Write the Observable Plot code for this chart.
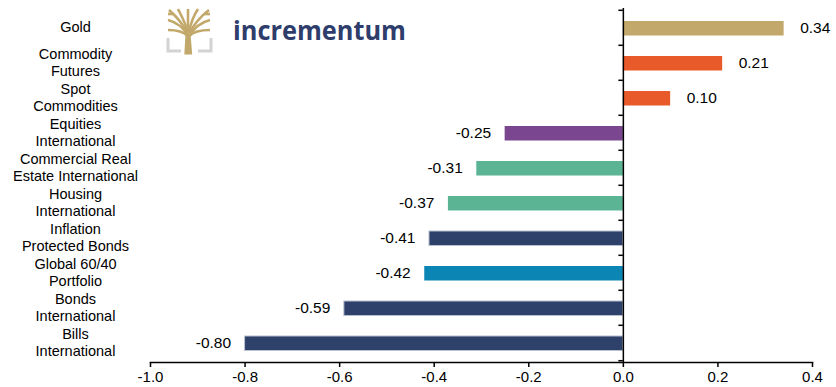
<!DOCTYPE html>
<html>
<head>
<meta charset="utf-8">
<script src="https://cdn.jsdelivr.net/npm/d3@7"></script>
<script src="https://cdn.jsdelivr.net/npm/@observablehq/plot@0.6"></script>
<style>
  html, body { margin: 0; padding: 0; background: #fff; }
  #wrap { position: relative; width: 836px; height: 387px; font-family: "Liberation Sans", Arial, sans-serif; }
  #logo { position: absolute; left: 0; top: 0; pointer-events: none; }
</style>
</head>
<body>
<div id="wrap">
  <div id="chart"></div>
  <svg id="logo" width="836" height="60">
    <g fill="none" stroke-linecap="butt">
      <path d="M168,38 V51 H181" stroke="#d3d3d3" stroke-width="3"/>
      <path d="M211,38 V51 H198" stroke="#d3d3d3" stroke-width="3"/>
      <path d="M187,52 L188,34 L189.5,52 Z" fill="#c2a86a" stroke="#c2a86a" stroke-width="5"/>
      <g stroke="#c2a86a" stroke-width="2.6">
        <path d="M188,36 C184,28 176,22 168,20"/>
        <path d="M188,36 C182,30 172,30 168,30"/>
        <path d="M188,34 C183,24 176,16 169,10"/>
        <path d="M188,32 C185,22 181,15 178,9"/>
        <path d="M188,32 L188,9"/>
        <path d="M189,32 C191,22 194,15 198,9"/>
        <path d="M189,34 C194,24 201,16 209,10"/>
        <path d="M189,36 C194,28 202,22 210,20"/>
        <path d="M189,36 C195,30 205,30 210,30"/>
        <path d="M168,14 L174,14"/>
        <path d="M204,14 L210,14"/>
      </g>
    </g>
    <text x="233" y="40" textLength="173" lengthAdjust="spacingAndGlyphs" fill="#2e3d6b" font-family="'Open Sans', 'Liberation Sans', sans-serif" font-weight="700" font-size="27">incrementum</text>
  </svg>
</div>
<script>
const categories = [
  "Gold",
  "Commodity\nFutures",
  "Spot\nCommodities",
  "Equities\nInternational",
  "Commercial Real\nEstate International",
  "Housing\nInternational",
  "Inflation\nProtected Bonds",
  "Global 60/40\nPortfolio",
  "Bonds\nInternational",
  "Bills\nInternational"
];
const values = [0.34, 0.21, 0.10, -0.25, -0.31, -0.37, -0.41, -0.42, -0.59, -0.80];
const colors = ["#c2a86a", "#e85a29", "#e85a29", "#7b4690", "#5bb595", "#5bb595", "#2e416b", "#0a85b4", "#2e416b", "#2e416b"];
const edgeColors = ["none", "none", "none", "none", "none", "none", "#b8c0d0", "none", "#b8c0d0", "#b8c0d0"];
const xTicks = [-1.0, -0.8, -0.6, -0.4, -0.2, 0.0, 0.2, 0.4];

const data = categories.map((c, i) => ({name: c, value: values[i], color: colors[i], edge: edgeColors[i]}));

const chart = Plot.plot({
  width: 836,
  height: 387,
  marginLeft: 150,
  marginRight: 24,
  marginTop: 8,
  marginBottom: 25,
  style: {fontFamily: "'Liberation Sans', Arial, sans-serif", color: "#000", background: "#fff"},
  x: {domain: [-1, 0.4]},
  y: {domain: categories, padding: 0},
  color: {type: "identity"},
  marks: [
    Plot.barX(data, {x: "value", y: "name", fill: "color", stroke: "edge", strokeWidth: 1, insetTop: 11, insetBottom: 9.5}),
    Plot.text(data.filter(d => d.value >= 0), {x: "value", y: "name", text: d => d.value.toFixed(2), textAnchor: "start", dx: 16, fontSize: 15.5, fill: "#000"}),
    Plot.text(data.filter(d => d.value < 0), {x: "value", y: "name", text: d => d.value.toFixed(2), textAnchor: "end", dx: -14, fontSize: 15.5, fill: "#000"}),
    Plot.ruleX([0], {stroke: "#000", strokeWidth: 1.5}),
    Plot.ruleY(categories, {y: d => d, x1: -0.0095, x2: 0, dy: -17.7, stroke: "#000", strokeWidth: 1.5}),
    Plot.ruleY(categories.slice(-1), {y: d => d, x1: -0.0095, x2: 0, dy: 17.7, stroke: "#000", strokeWidth: 1.5}),
    Plot.frame({anchor: "bottom", stroke: "#000", strokeWidth: 1.5}),
    Plot.axisX({ticks: xTicks, tickFormat: d => d.toFixed(1), tickSize: 5, tickPadding: 4, fontSize: 15, stroke: "#000", strokeWidth: 1.5, label: null}),
    Plot.axisY({tickSize: 0, tickPadding: 75, textAnchor: "middle", fontSize: 14.5, lineHeight: 1.17, dy: -1, label: null})
  ]
});
document.getElementById("chart").appendChild(chart);
</script>
</body>
</html>
